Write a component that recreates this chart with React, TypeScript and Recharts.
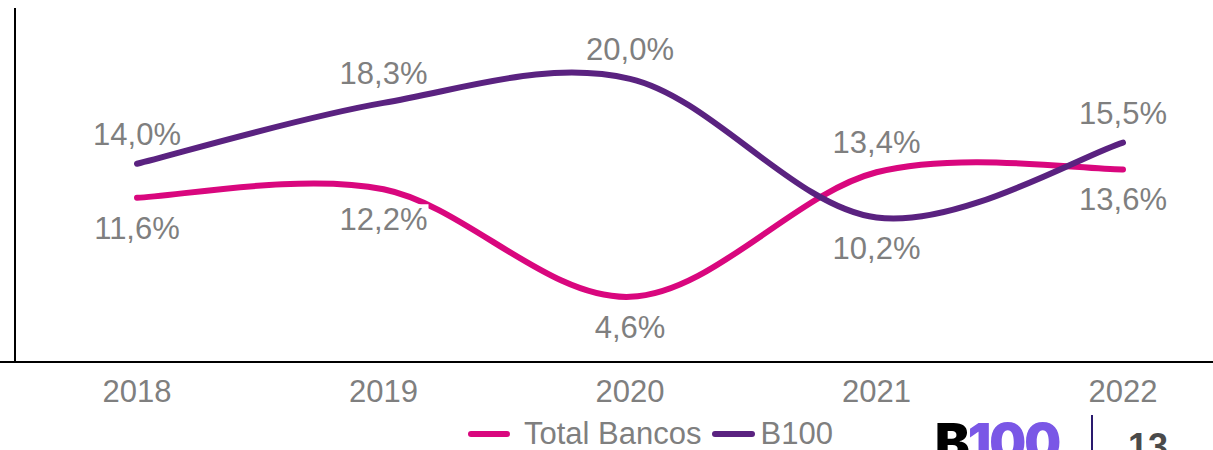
import { LineChart, Line, XAxis, YAxis, Legend, LabelList } from "recharts";

const years = ["2018", "2019", "2020", "2021", "2022"];
const totalBancos = [11.6, 12.2, 4.6, 13.4, 13.6];
const b100 = [14.0, 18.3, 20.0, 10.2, 15.5];

// where each data label sits relative to its point
const totalBancosLabelSide = ["below", "below", "below", "above", "below"];
const b100LabelSide = ["above", "above", "above", "below", "above"];

const PINK = "#D9077E";
const PURPLE = "#5A2280";
const GREY = "#7F7F7F";
const FONT = '"Liberation Sans", Arial, sans-serif';
const FS = 31;

const data = years.map((year, i) => ({
  year,
  totalBancos: totalBancos[i],
  b100: b100[i],
}));

const fmt = (v: number) => v.toFixed(1).replace(".", ",") + "%";

// Excel-like smoothed line: Catmull-Rom segments through every point
const smoothCurve = (context: any) => {
  let pts: number[][] = [];
  return {
    areaStart() {},
    areaEnd() {},
    lineStart() {
      pts = [];
    },
    point(x: number, y: number) {
      pts.push([+x, +y]);
    },
    lineEnd() {
      const n = pts.length;
      if (!n) return;
      context.moveTo(pts[0][0], pts[0][1]);
      for (let i = 0; i < n - 1; i++) {
        const p0 = pts[i - 1] || pts[i];
        const p1 = pts[i];
        const p2 = pts[i + 1];
        const p3 = pts[i + 2] || p2;
        context.bezierCurveTo(
          p1[0] + (p2[0] - p0[0]) / 6,
          p1[1] + (p2[1] - p0[1]) / 6,
          p2[0] - (p3[0] - p1[0]) / 6,
          p2[1] - (p3[1] - p1[1]) / 6,
          p2[0],
          p2[1]
        );
      }
    },
  };
};

const makeLabel = (sides: string[]) => (props: any) => {
  const { x, y, value, index } = props;
  const above = sides[index] === "above";
  const cy = above ? y - 30 : y + 30;
  return (
    <g key={`lbl-${index}`}>
      <rect x={x - 45} y={cy - 15} width={90} height={29} fill="#fff" />
      <text
        x={x}
        y={cy + 11}
        textAnchor="middle"
        fill={GREY}
        fontSize={FS}
        fontFamily={FONT}
      >
        {fmt(value)}
      </text>
    </g>
  );
};

const renderLegend = () => (
  <div
    style={{
      display: "flex",
      alignItems: "center",
      fontFamily: FONT,
      fontSize: FS,
      color: GREY,
      whiteSpace: "nowrap",
    }}
  >
    <svg width={46} height={10}>
      <line x1={5} y1={5} x2={41} y2={5} stroke={PINK} strokeWidth={6} strokeLinecap="round" />
    </svg>
    <span style={{ marginLeft: 12 }}>Total Bancos</span>
    <svg width={48} height={10} style={{ marginLeft: 6 }}>
      <line x1={7} y1={5} x2={44} y2={5} stroke={PURPLE} strokeWidth={6} strokeLinecap="round" />
    </svg>
    <span style={{ marginLeft: 5 }}>B100</span>
  </div>
);

export default function App() {
  return (
    <div
      style={{
        position: "absolute",
        left: 0,
        top: 0,
        width: 1213,
        height: 450,
        overflow: "hidden",
        background: "#fff",
      }}
    >
      <LineChart
        width={1245}
        height={450}
        data={data}
        margin={{ top: 8, right: 0, left: 0, bottom: 0 }}
      >
        <YAxis
          domain={[0, 25]}
          width={15}
          tick={false}
          tickLine={false}
          axisLine={{ stroke: "#000", strokeWidth: 2 }}
        />
        <XAxis
          dataKey="year"
          height={88}
          interval={0}
          padding={{ left: 122, right: 122 }}
          tickLine={false}
          tickMargin={12}
          axisLine={{ stroke: "#000", strokeWidth: 2 }}
          tick={{ fill: GREY, fontSize: FS, fontFamily: FONT }}
        />
        <Legend
          verticalAlign="middle"
          align="center"
          content={renderLegend}
          wrapperStyle={{ left: 466, top: 416, width: "auto" }}
        />
        <Line
          dataKey="totalBancos"
          name="Total Bancos"
          type={smoothCurve as any}
          stroke={PINK}
          strokeWidth={6}
          strokeLinecap="round"
          dot={false}
          activeDot={false}
          isAnimationActive={false}
        >
          <LabelList dataKey="totalBancos" content={makeLabel(totalBancosLabelSide)} />
        </Line>
        <Line
          dataKey="b100"
          name="B100"
          type={smoothCurve as any}
          stroke={PURPLE}
          strokeWidth={6}
          strokeLinecap="round"
          dot={false}
          activeDot={false}
          isAnimationActive={false}
        >
          <LabelList dataKey="b100" content={makeLabel(b100LabelSide)} />
        </Line>
      </LineChart>
      <svg
        width={1213}
        height={450}
        style={{ position: "absolute", left: 0, top: 0, pointerEvents: "none" }}
      >
        <line x1={0} y1={362} x2={16} y2={362} stroke="#000" strokeWidth={2} />
        <text x={935} y={461} fontFamily="Inter, sans-serif" fontWeight={900} fontSize={52} letterSpacing={-2}>
          <tspan fill="#000">B</tspan>
          <tspan fill="#7A57E6">100</tspan>
        </text>
        <line x1={1092} y1={415} x2={1092} y2={450} stroke="#2A1A6E" strokeWidth={2} />
        <text x={1128} y={459} fontFamily={FONT} fontWeight={700} fontSize={36} fill="#4A4A4A">
          13
        </text>
      </svg>
    </div>
  );
}
